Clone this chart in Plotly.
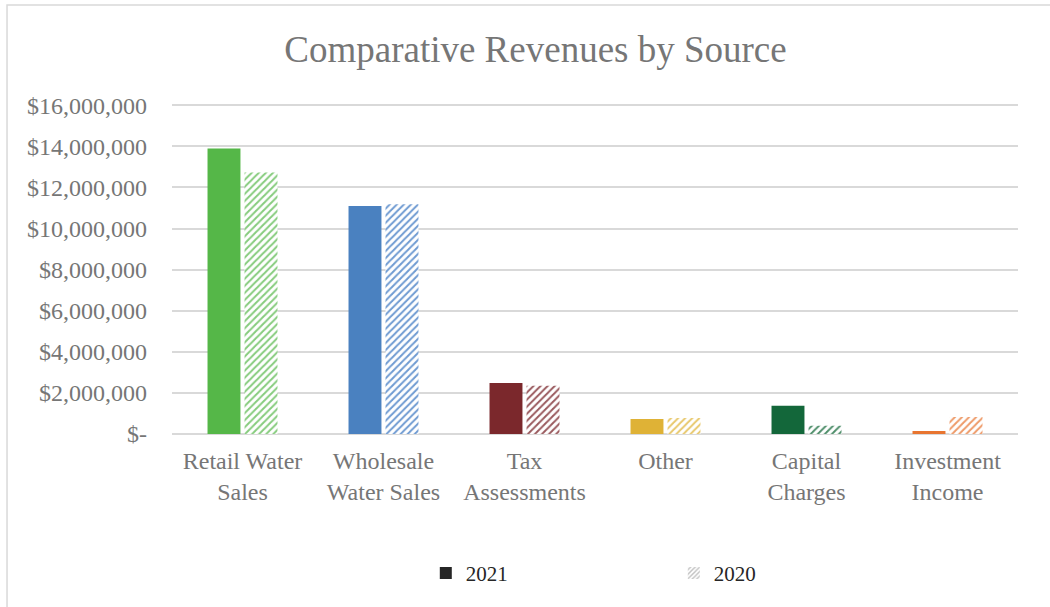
import plotly.graph_objects as go

categories = ["Retail Water<br>Sales", "Wholesale<br>Water Sales", "Tax<br>Assessments",
              "Other", "Capital<br>Charges", "Investment<br>Income"]
rev_2021 = [13900000, 11090000, 2480000, 730000, 1380000, 150000]
rev_2020 = [12730000, 11180000, 2350000, 780000, 400000, 830000]
solid_colors = ["#55b748", "#4a81c0", "#7b282c", "#dfb236", "#13673a", "#e87530"]
hatch_colors = ["#86cc7d", "#6f9bd2", "#9a5a5e", "#e8c86c", "#4e8e6a", "#ee9a68"]
tick_vals = [0, 2000000, 4000000, 6000000, 8000000, 10000000, 12000000, 14000000, 16000000]
tick_text = ["$-"] + ["${:,}".format(v) for v in tick_vals[1:]]

FONT = "Liberation Serif"
GRAY = "#767676"

fig = go.Figure()
fig.add_trace(go.Bar(x=categories, y=rev_2021, name="2021", showlegend=False,
                     marker=dict(color=solid_colors, line=dict(width=0))))
fig.add_trace(go.Bar(x=categories, y=rev_2020, name="2020", showlegend=False,
                     marker=dict(color="white", line=dict(width=0),
                                 pattern=dict(shape="/", fgcolor=hatch_colors, bgcolor="white",
                                              size=5, solidity=0.4, fillmode="replace"))))
# legend-only traces
fig.add_trace(go.Bar(x=[None], y=[None], name="2021", xaxis="x2", yaxis="y2",
                     marker=dict(color="#262626", line=dict(width=0))))
fig.add_trace(go.Bar(x=[None], y=[None], name="2020", xaxis="x2", yaxis="y2",
                     marker=dict(color="white", line=dict(width=0),
                                 pattern=dict(shape="/", fgcolor="#808080", bgcolor="white",
                                              size=4, solidity=0.45))))

fig.update_layout(
    width=1050, height=607,
    margin=dict(l=172, r=32, t=104, b=173),
    paper_bgcolor="white", plot_bgcolor="white",
    font=dict(family=FONT, color=GRAY, size=24),
    title=dict(text="Comparative Revenues by Source", x=0.51, xanchor="center",
               y=0.92, yanchor="middle", font=dict(size=37, color=GRAY, family=FONT)),
    barmode="group", bargap=0.475, bargroupgap=0.11,
    xaxis=dict(showgrid=False, showline=False, ticks="", ticklabelstandoff=10,
               tickfont=dict(size=24, color=GRAY)),
    yaxis=dict(range=[0, 16060000], tickvals=tick_vals, ticktext=tick_text,
               showgrid=True, gridcolor="#d9d9d9", gridwidth=1.5, zeroline=True,
               zerolinecolor="#d9d9d9", zerolinewidth=1.5, showline=False,
               ticks="", ticklabelstandoff=24, tickfont=dict(size=24, color=GRAY)),
    xaxis2=dict(visible=False, overlaying="x", range=[0, 1]),
    yaxis2=dict(visible=False, overlaying="y", range=[0, 1]),
    legend=dict(orientation="h", x=0.3, xanchor="left", y=-0.36, yanchor="top",
                font=dict(size=21, color="#262626", family=FONT), entrywidth=203,
                bgcolor="rgba(0,0,0,0)"),
    shapes=[dict(type="rect", xref="paper", yref="paper", x0=-0.195, x1=1.2, y0=-1.0, y1=1.3,
                 line=dict(color="#d9d9d9", width=1.5), layer="below")],
)

fig.write_html("out.html")
